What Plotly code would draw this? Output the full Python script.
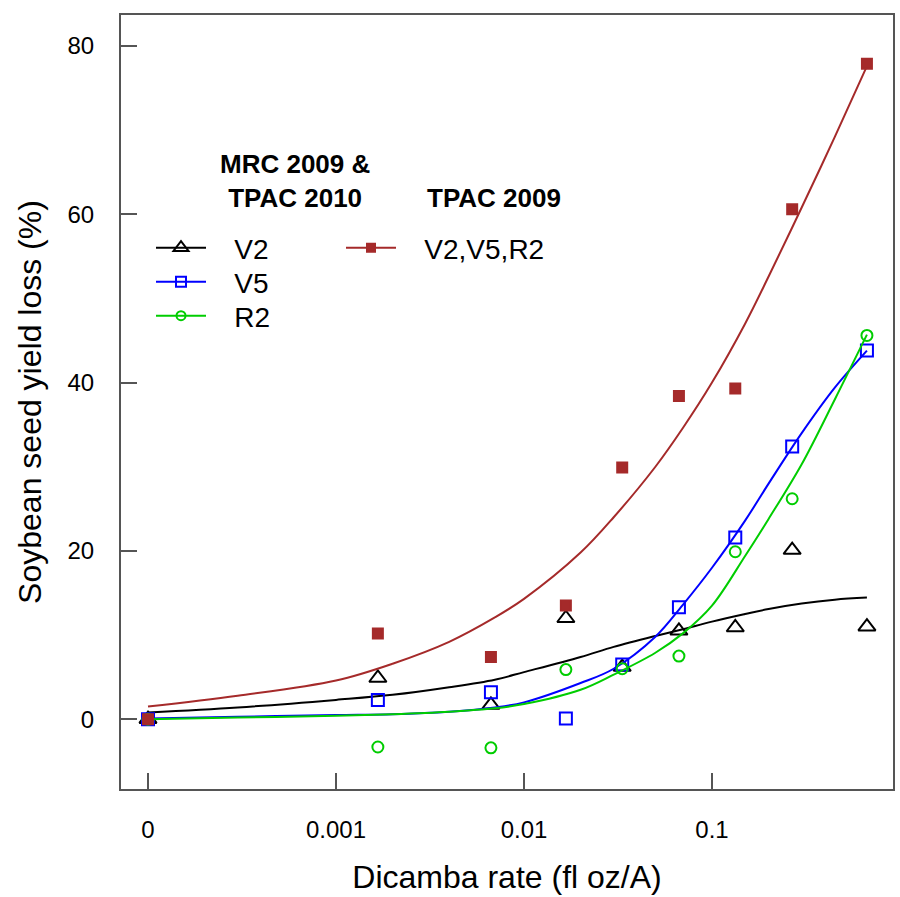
import math
import plotly.graph_objects as go

# ---------------- data ----------------
rates = [0, 0.00167, 0.00667, 0.0167, 0.0333, 0.0667, 0.133, 0.267, 0.667]
v2_loss = [0, 4.9, 1.7, 12.0, 6.2, 10.5, 10.9, 20.1, 11.0]
v5_loss = [0, 2.3, 3.2, 0.1, 6.5, 13.3, 21.6, 32.4, 43.8]
r2_loss = [0, -3.3, -3.4, 5.9, 6.0, 7.5, 19.9, 26.2, 45.6]
tpac_loss = [0, 10.2, 7.4, 13.5, 29.9, 38.4, 39.3, 60.6, 77.9]

# fitted curves
curve_rates = [0, 0.0003, 0.001, 0.002, 0.004, 0.007, 0.01, 0.02, 0.03,
               0.05, 0.07, 0.1, 0.15, 0.2, 0.3, 0.45, 0.667]
v2_fit = [0.8, 1.4, 2.3, 2.9, 3.8, 4.7, 5.6, 7.4, 8.6,
          9.9, 10.7, 11.6, 12.5, 13.1, 13.75, 14.2, 14.45]
v5_fit = [0.1, 0.3, 0.5, 0.6, 0.9, 1.4, 2.0, 4.3, 6.0,
          9.8, 13.6, 18.0, 23.6, 28.0, 34.0, 39.4, 43.8]
r2_fit = [0.0, 0.2, 0.4, 0.6, 0.9, 1.3, 1.8, 3.5, 5.3,
          7.9, 10.2, 13.5, 19.4, 23.8, 30.3, 38.0, 45.7]
tpac_fit = [1.5, 2.8, 4.6, 6.6, 9.2, 12.1, 14.3, 19.8, 24.0,
            30.0, 34.6, 40.0, 47.0, 52.6, 60.8, 69.2, 77.6]

x_ticks = [0, 0.001, 0.01, 0.1]
x_tick_labels = ["0", "0.001", "0.01", "0.1"]
y_ticks = [0, 20, 40, 60, 80]

# the zero rate is drawn one decade below 0.001 on the log axis
ZERO_AT = 1e-4


def place(xs):
    return [x if x > 0 else ZERO_AT for x in xs]


BLACK = "#000000"
BLUE = "#0000FF"
GREEN = "#00CD00"
BROWN = "#A52A2A"
FONT = "Liberation Sans, Arial, sans-serif"

# plot-area geometry in pixels (used only to place legend / header text)
PL, PR, PT, PB = 121, 893, 15, 789


def px(x):
    return (x - PL) / (PR - PL)


def py(y):
    return (PB - y) / (PB - PT)


fig = go.Figure()

series = [
    ("V2", v2_loss, v2_fit, BLACK, "triangle-up-open", 15, "legend", 151, 248),
    ("V5", v5_loss, v5_fit, BLUE, "square-open", 12, "legend2", 151, 282),
    ("R2", r2_loss, r2_fit, GREEN, "circle-open", 11, "legend3", 151, 316),
    ("V2,V5,R2", tpac_loss, tpac_fit, BROWN, "square", 10, "legend4", 341, 248),
]

for name, pts, fit, col, sym, size, leg, lx, ly in series:
    fig.add_trace(go.Scatter(
        x=place(curve_rates), y=fit, mode="lines",
        line=dict(color=col, width=2, shape="spline", smoothing=1.0),
        showlegend=False, hoverinfo="skip"))
    fig.add_trace(go.Scatter(
        x=place(rates), y=pts, mode="markers",
        marker=dict(symbol=sym, size=size, color=col,
                    line=dict(color=col, width=2)),
        showlegend=False, name=name))

legend_layout = {}
for name, pts, fit, col, sym, size, leg, lx, ly in series:
    fig.add_trace(go.Scatter(
        x=[None], y=[None], mode="lines+markers",
        name="\u00a0\u00a0\u00a0" + name, legend=leg,
        line=dict(color=col, width=2),
        marker=dict(symbol=sym, size=size - 2, color=col,
                    line=dict(color=col, width=2))))
    legend_layout[leg] = dict(
        x=px(lx), y=py(ly), xanchor="left", yanchor="middle",
        bgcolor="rgba(0,0,0,0)", borderwidth=0,
        font=dict(family=FONT, size=28, color="#000000"),
        itemwidth=50)

axis_common = dict(
    showline=True, mirror=True, linecolor="#555555", linewidth=2,
    ticks="inside", ticklen=16, tickwidth=2, tickcolor="#555555",
    showgrid=False, zeroline=False,
    tickfont=dict(family=FONT, size=24, color="#000000"),
)

fig.update_xaxes(
    type="log",
    range=[math.log10(1e-4) - 0.1436, math.log10(0.1) + 0.9628],
    tickvals=place(x_ticks), ticktext=x_tick_labels,
    ticklabelstandoff=18,
    title=dict(text="Dicamba rate (fl oz/A)", standoff=24,
               font=dict(family=FONT, size=32, color="#000000")),
    **axis_common)
fig.update_yaxes(
    range=[-8.29, 83.68],
    tickvals=y_ticks,
    ticklabelstandoff=20,
    title=dict(text="Soybean seed yield loss (%)", standoff=16,
               font=dict(family=FONT, size=32, color="#000000")),
    **axis_common)

fig.update_layout(**legend_layout)

fig.add_annotation(
    text="<b>MRC 2009 &<br>TPAC 2010</b>", xref="paper", yref="paper",
    x=px(295), y=py(181), showarrow=False,
    xanchor="center", yanchor="middle",
    font=dict(family=FONT, size=26, color="#000000"))
fig.add_annotation(
    text="<b>TPAC 2009</b>", xref="paper", yref="paper",
    x=px(494), y=py(198), showarrow=False,
    xanchor="center", yanchor="middle",
    font=dict(family=FONT, size=26, color="#000000"))

fig.update_layout(
    width=900, height=897,
    margin=dict(l=PL, r=900 - PR, t=PT, b=897 - PB, autoexpand=False),
    paper_bgcolor="#FFFFFF", plot_bgcolor="#FFFFFF",
    font=dict(family=FONT),
)

fig.write_html("out.html",
               config={"displayModeBar": False},
               post_script="document.body.style.margin='0px';"
                           "document.body.style.overflow='hidden';")
